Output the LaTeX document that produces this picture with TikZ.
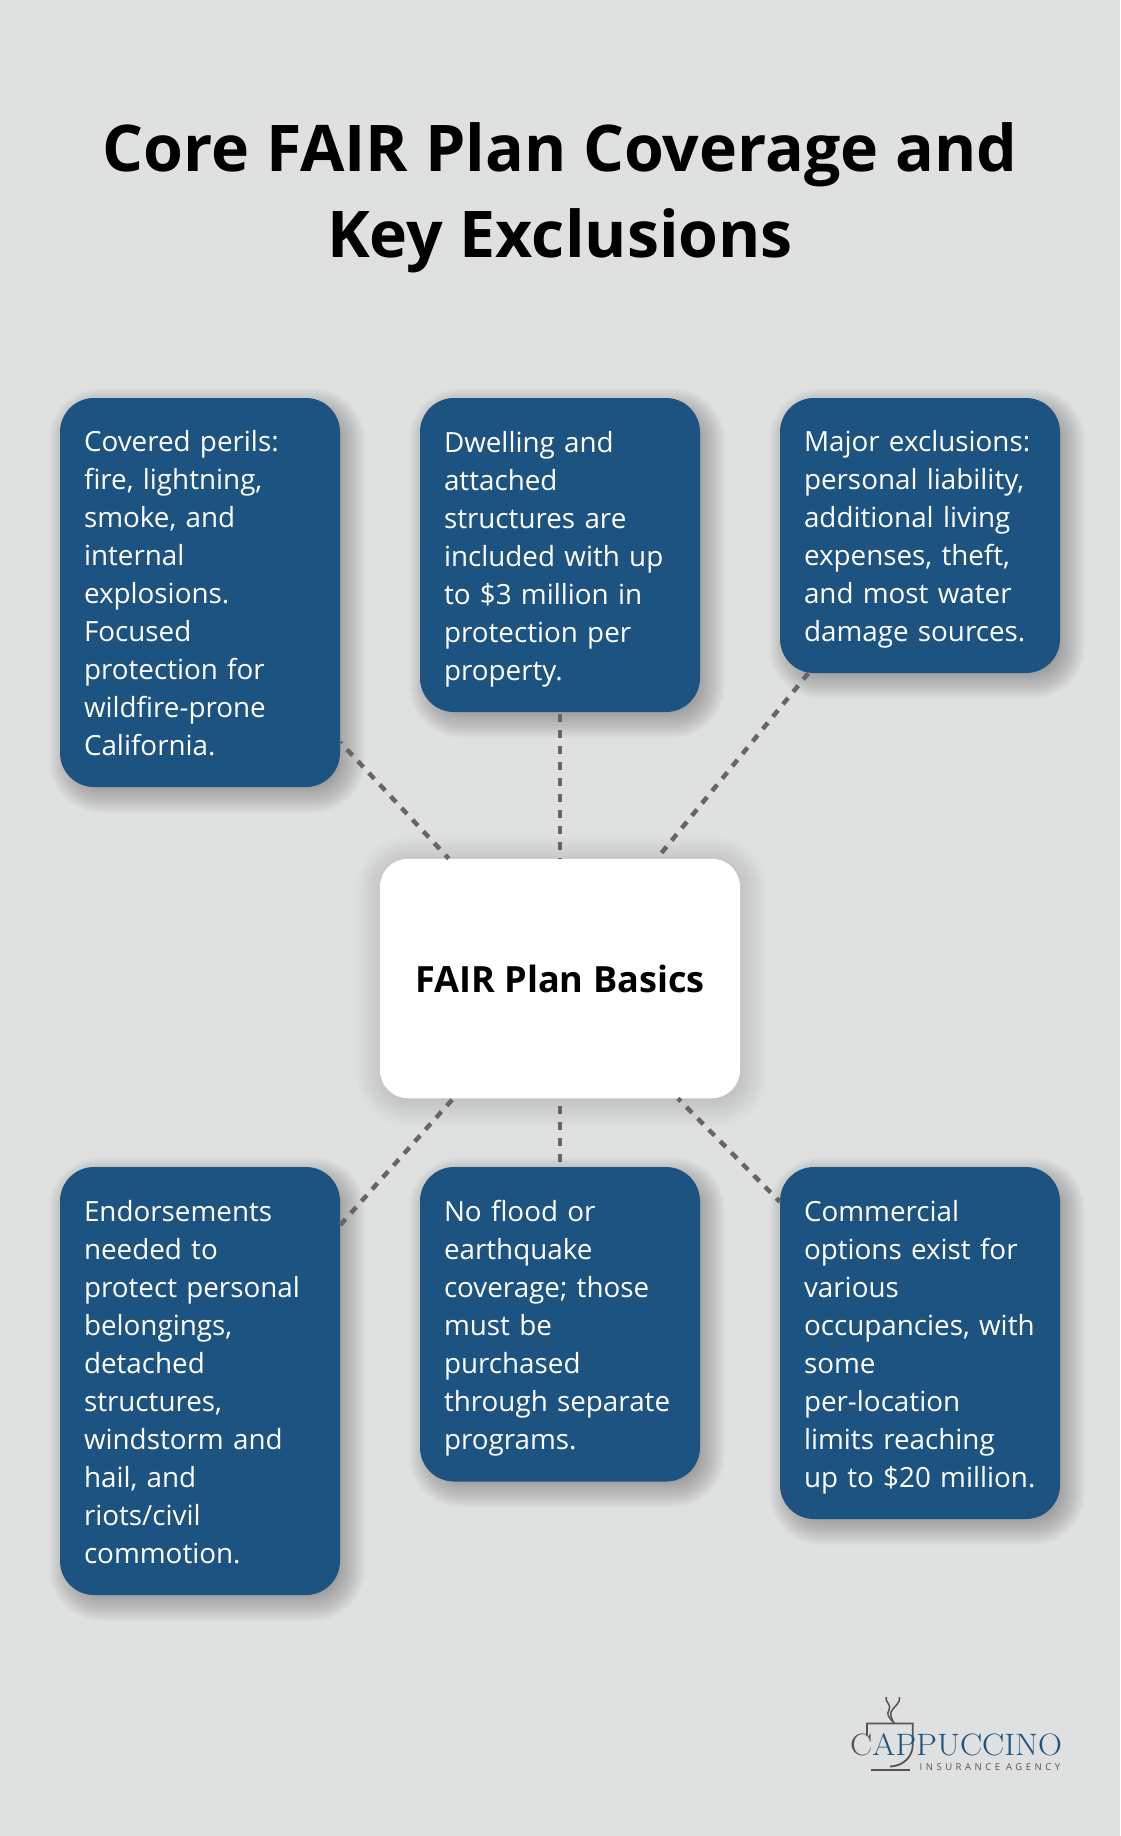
\documentclass[tikz,border=0pt]{standalone}
\usepackage{fontspec}
\setsansfont{Open Sans}
\definecolor{bgc}{HTML}{DFE1E0}
\definecolor{boxc}{HTML}{1C5380}
\definecolor{linec}{HTML}{666666}
\definecolor{logog}{HTML}{555555}
\newcommand{\lstrut}{\rule[-7.8pt]{0pt}{38pt}}
% box: x1 y1 x2 y2
\newcommand{\softbox}[4]{%
  \foreach \k in {-18,-16.5,...,18} {
    \pgfmathsetmacro{\rr}{34+\k}
    \fill[black,fill opacity=.0145,rounded corners=\rr pt] (#1+7-\k,#2+8-\k) rectangle (#3+7+\k,#4+8+\k);
  }}
\newcommand{\softhub}[4]{%
  \foreach \k in {-26,-24,...,26} {
    \pgfmathsetmacro{\rr}{28+\k}
    \fill[black,fill opacity=.0095,rounded corners=\rr pt] (#1+2-\k,#2+3-\k) rectangle (#3+2+\k,#4+3+\k);
  }}
\tikzset{
 infobox/.style={fill=boxc,rounded corners=34pt,inner sep=0pt,minimum width=280pt,
  text=white,text width=232pt,align=left,font=\sffamily\fontsize{27.8}{38}\selectfont,
  execute at begin node=\lstrut,execute at end node=\lstrut},
 hubbox/.style={fill=white,rounded corners=28pt,inner sep=0pt,minimum width=360pt,minimum height=239.5pt,
  text=black,align=center,font=\sffamily\bfseries\fontsize{36.1}{44}\selectfont},
 titletext/.style={text=black,align=center,font=\sffamily\bfseries\fontsize{64.4}{86}\selectfont},
 link/.style={draw=linec,line width=4.5pt,dash pattern=on 8pt off 8pt},
 cupline/.style={draw=logog,line width=1.8pt},
}
\begin{document}
\begin{tikzpicture}[x=1pt,y=-1pt]
\path[use as bounding box,fill=bgc] (0,0) rectangle (1120,1836);
\softbox{60}{398}{340}{787}
\softbox{420}{398}{700}{712}
\softbox{780}{398}{1060}{673}
\softbox{60}{1167}{340}{1595}
\softbox{420}{1167}{700}{1481.5}
\softbox{780}{1167}{1060}{1519}
\softhub{380}{858.75}{740}{1098.25}
\node[titletext] (title) at (560,197.5) {Core FAIR Plan Coverage and\\Key Exclusions};
\node[infobox,minimum height=389pt] (a) at (200,592.5) {Covered perils:\\fire, lightning,\\smoke, and\\internal\\explosions.\\Focused\\protection for\\wildfire-prone\\California.};
\node[infobox,minimum height=314pt] (b) at (560,555) {Dwelling and\\attached\\structures are\\included with up\\to \$3 million in\\protection per\\property.};
\node[infobox,minimum height=275pt] (c) at (920,535.5) {Major exclusions:\\personal liability,\\additional living\\expenses, theft,\\and most water\\damage sources.};
\node[infobox,minimum height=428pt] (d) at (200,1381) {Endorsements\\needed to\\protect personal\\belongings,\\detached\\structures,\\windstorm and\\hail, and\\riots/civil\\commotion.};
\node[infobox,minimum height=314.5pt] (e) at (560,1324.25) {No flood or\\earthquake\\coverage; those\\must be\\purchased\\through separate\\programs.};
\node[infobox,minimum height=352pt] (f) at (920,1343) {Commercial\\options exist for\\various\\occupancies, with\\some\\per-location\\limits reaching\\up to \$20 million.};
\node[hubbox] (hub) at (560,978.5) {FAIR Plan Basics};
\draw[link,dash phase=6pt] (a) -- (hub);
\draw[link,dash phase=14pt] (b) -- (hub);
\draw[link] (c) -- (hub);
\draw[link] (d) -- (hub);
\draw[link,dash phase=11pt] (e) -- (hub);
\draw[link,dash phase=3pt] (f) -- (hub);
% logo
\draw[cupline,line width=1.5pt] (886,1697) .. controls (885,1702) and (892,1705) .. (889,1710) .. controls (886,1714) and (889,1718) .. (894,1723);
\draw[cupline,line width=1.5pt] (899.5,1697) .. controls (901,1703) and (893,1707) .. (891,1712) .. controls (890,1716) and (892,1719) .. (894,1723);
\draw[cupline] (867,1736) -- (867,1723.5) -- (912.7,1723.5) -- (912.7,1745) .. controls (912.7,1757) and (903,1766) .. (890,1766.5);
\draw[cupline,line width=2pt] (871,1770) -- (909.5,1770);
\node[anchor=base west,inner sep=0pt,font=\rmfamily\fontsize{31}{31}\selectfont\addfontfeature{FakeBold=0.5},xscale=1.07,transform shape] (logo) at (850,1755) {\textcolor{logog}{C}\textcolor{boxc}{APPUCCINO}};
\node[anchor=base west,inner sep=0pt,text=logog,font=\sffamily\fontsize{9.5}{10}\selectfont\addfontfeature{LetterSpace=37}] (agency) at (919.5,1770.7) {INSURANCE AGENCY};
\end{tikzpicture}
\end{document}
